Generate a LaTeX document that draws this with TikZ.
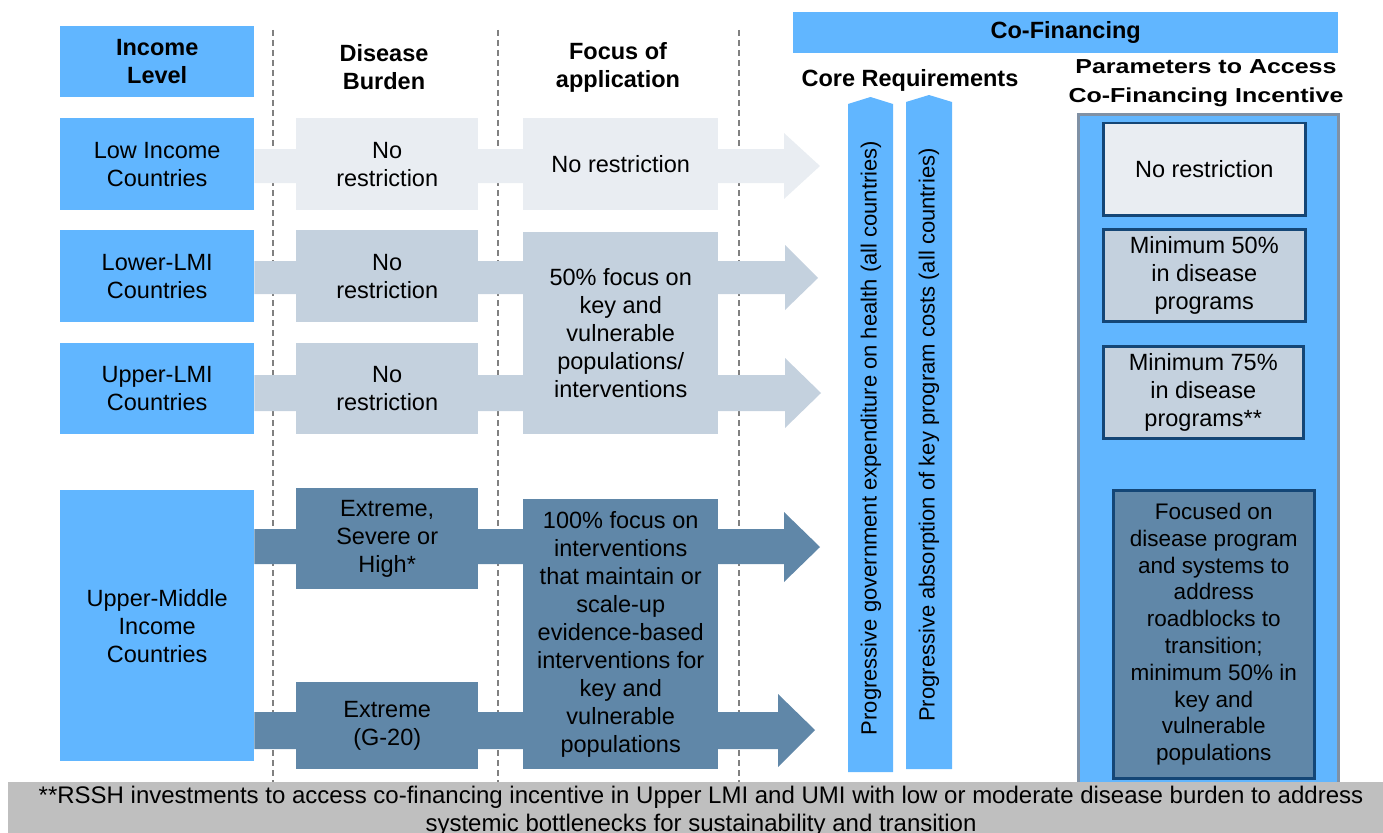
\documentclass[tikz,border=0pt]{standalone}
\usepackage{fontspec}
\setmainfont{Liberation Sans}
\usepackage{graphicx}
\usetikzlibrary{positioning}

\definecolor{incblue}{RGB}{97,182,255}
\definecolor{rowpale}{RGB}{233,237,242}
\definecolor{rowmid}{RGB}{196,209,222}
\definecolor{rowdark}{RGB}{96,135,168}
\definecolor{panelgray}{RGB}{128,145,165}
\definecolor{boxnavy}{RGB}{20,70,118}
\definecolor{footgray}{RGB}{191,191,191}
\definecolor{dashgray}{RGB}{128,128,128}

\newcommand{\bodyfont}{\fontsize{23.5}{28}\selectfont}
\newcommand{\barfont}{\fontsize{22}{26}\selectfont}
\newcommand{\narrowfont}{\fontsize{22.5}{26.8}\selectfont}

\tikzset{
  cell/.style={inner sep=0pt, align=center, font=\bodyfont, anchor=north west},
  incbox/.style={cell, fill=incblue},
  head/.style={inner sep=0pt, align=center, font=\bodyfont\bfseries},
  parbox/.style={cell, draw=boxnavy, line width=2.5pt},
  sep/.style={dashgray, line width=1.5pt, dash pattern=on 6pt off 4pt},
  bartext/.style={rotate=90, inner sep=0pt, font=\barfont},
}

\begin{document}
\begin{tikzpicture}[x=1pt,y=-1pt]
    \useasboundingbox (0,0) rectangle (1383,832);
    \clip (0,0) rectangle (1383,832);

    % dashed column separators
    \draw[sep] (273,30) -- (273,782);
    \draw[sep] (498,30) -- (498,782);
    \draw[sep] (739,30) -- (739,782);

    % income level column
    \node[incbox, font=\bodyfont\bfseries, minimum width=194, minimum height=71] (inchead) at (60,26) {Income\\Level};
    \node[incbox, minimum width=194, minimum height=92] (low) at (60,118) {Low Income\\Countries};
    \node[incbox, minimum width=194, minimum height=92] (lower) at (60,230) {Lower-LMI\\Countries};
    \node[incbox, minimum width=194, minimum height=91] (upper) at (60,343) {Upper-LMI\\Countries};
    \node[incbox, minimum width=194, minimum height=271] (umi) at (60,490) {Upper-Middle\\Income\\Countries};

    % column headings
    \node[head] (dbhead) at (384,67) {Disease\\Burden};
    \node[head] (fchead) at (618,67) {Focus of\\application};

    % tips of the big arrows
    \coordinate (tipA) at (820,166);
    \coordinate (tipB) at (818,278);
    \coordinate (tipC) at (821,393);
    \coordinate (tipD) at (820,547);
    \coordinate (tipE) at (815,730);

    % big arrows, one per row
    \fill[rowpale] (low.east |- 0,149) -- (784,149) -- (784,133) -- (tipA) -- (784,199) -- (784,183) -- (low.east |- 0,183) -- cycle;
    \fill[rowmid] (lower.east |- 0,261) -- (785,261) -- (785,245) -- (tipB) -- (785,310) -- (785,294) -- (lower.east |- 0,294) -- cycle;
    \fill[rowmid] (upper.east |- 0,375) -- (785,375) -- (785,358) -- (tipC) -- (785,428) -- (785,411) -- (upper.east |- 0,411) -- cycle;
    \fill[rowdark] (umi.east |- 0,529) -- (784,529) -- (784,512) -- (tipD) -- (784,582) -- (784,564) -- (umi.east |- 0,564) -- cycle;
    \fill[rowdark] (umi.east |- 0,712) -- (778,712) -- (778,694) -- (tipE) -- (778,767) -- (778,749) -- (umi.east |- 0,749) -- cycle;

    % disease burden boxes
    \node[cell, fill=rowpale, minimum width=182, minimum height=92] (dbA) at (296,118) {No\\restriction};
    \node[cell, fill=rowmid, minimum width=182, minimum height=92] (dbB) at (296,230) {No\\restriction};
    \node[cell, fill=rowmid, minimum width=182, minimum height=91] (dbC) at (296,343) {No\\restriction};
    \node[cell, fill=rowdark, minimum width=182, minimum height=101] (dbD) at (296,488) {Extreme,\\Severe or\\High*};
    \node[cell, fill=rowdark, minimum width=182, minimum height=87] (dbE) at (296,682) {Extreme\\(G-20)};

    % focus of application boxes
    \node[cell, fill=rowpale, minimum width=195, minimum height=92] (fcA) at (523,118) {No restriction};
    \node[cell, fill=rowmid, minimum width=195, minimum height=202] (fcB) at (523,232) {50\% focus on\\key and\\vulnerable\\populations/\\interventions};
    \node[cell, fill=rowdark, minimum width=195, minimum height=270] (fcD) at (523,499) {100\% focus on\\interventions\\that maintain or\\scale-up\\evidence-based\\interventions for\\key and\\vulnerable\\populations};

    % co-financing part
    \node[incbox, font=\bodyfont\bfseries, minimum width=545, minimum height=41] (cofin) at (793,12) {Co-Financing};
    \node[head] (core) at (910,80) {Core Requirements};
    \node[head, font=\fontsize{23.8}{34}\selectfont\bfseries] (param) at (1206,82)
        {\scalebox{1.05}[0.85]{\begin{tabular}{@{}c@{}}Parameters to Access\\Co-Financing Incentive\end{tabular}}};

    % core requirement bars
    \fill[incblue] (848,772) -- (848,104) -- (870.5,97) -- (893,104) -- (893,772) -- cycle;
    \fill[incblue] (906,769) -- (906,102) -- (929,95) -- (952,102) -- (952,769) -- cycle;
    \node[bartext] (govt) at (871,438) {Progressive government expenditure on health (all countries)};
    \node[bartext] (absorb) at (929,435) {Progressive absorption of key program costs (all countries)};

    % parameters panel
    \filldraw[fill=incblue, draw=panelgray, line width=3pt] (1078,115) rectangle (1338,800);
    \node[parbox, fill=rowpale, minimum width=202, minimum height=92] (parA) at (1102,122) {No restriction};
    \node[parbox, fill=rowmid, minimum width=202, minimum height=92] (parB) at (1102,228) {Minimum 50\%\\in disease\\programs};
    \node[parbox, fill=rowmid, minimum width=200, minimum height=92] (parC) at (1102,345) {Minimum 75\%\\in disease\\programs**};
    \node[parbox, fill=rowdark, font=\narrowfont, minimum width=201, minimum height=288] (parD) at (1112,489) {Focused on\\disease program\\and systems to\\address\\roadblocks to\\transition;\\minimum 50\% in\\key and\\vulnerable\\populations};

    % footnote
    \fill[footgray] (8,782) rectangle (1383,840);
    \node[inner sep=0pt, align=center, font=\fontsize{24}{28}\selectfont] (note) at (701,811) {**RSSH investments to access co-financing incentive in Upper LMI and UMI with low or moderate disease burden to address\\systemic bottlenecks for sustainability and transition};
\end{tikzpicture}
\end{document}
